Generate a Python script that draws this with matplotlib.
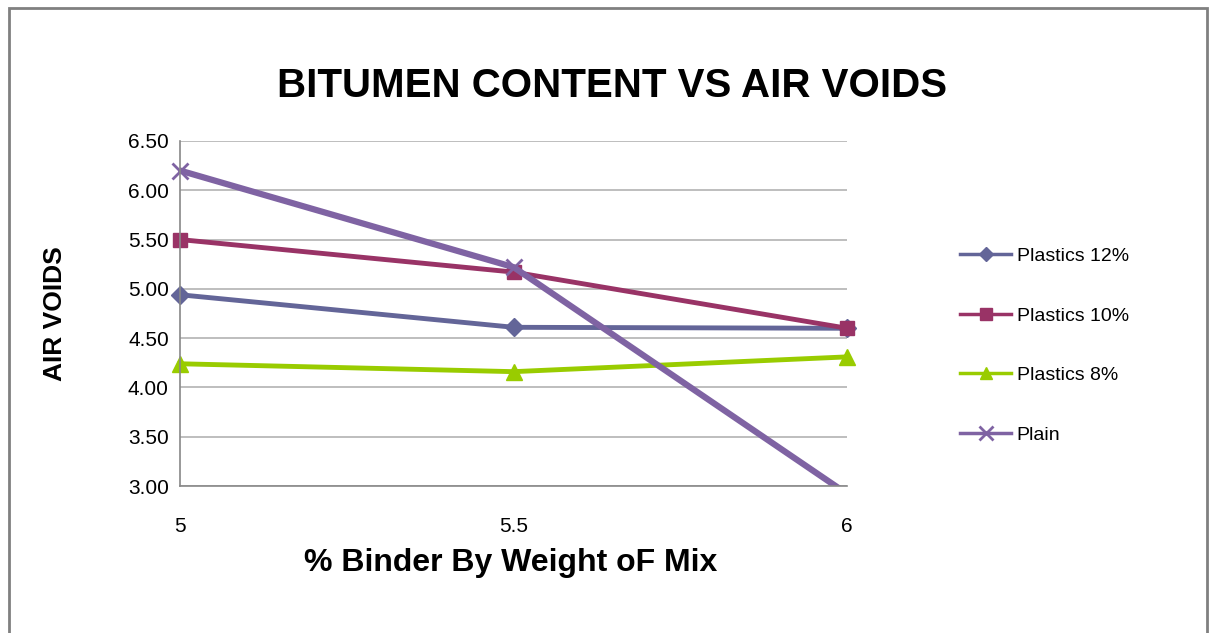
import matplotlib.pyplot as plt
from matplotlib.patches import Rectangle

# data
binder = [5, 5.5, 6]
plastics_12 = [4.94, 4.61, 4.60]
plastics_10 = [5.50, 5.17, 4.60]
plastics_8 = [4.24, 4.16, 4.31]
plain = [6.20, 5.22, 2.92]
y_ticks = [3.0, 3.5, 4.0, 4.5, 5.0, 5.5, 6.0, 6.5]

plt.rcParams['font.family'] = ['Liberation Sans Narrow', 'Liberation Sans', 'DejaVu Sans']

fig = plt.figure(figsize=(12.12, 6.33), dpi=100)
ax = fig.add_axes([0.1485, 0.2322, 0.5505, 0.5451])

# series (Plain is clipped at the axis bottom, markers are not)
l1, = ax.plot(binder, plastics_12, color='#636598', lw=3.5, marker='D', ms=9, label='Plastics 12%')
l2, = ax.plot(binder, plastics_10, color='#993366', lw=3.5, marker='s', ms=10, label='Plastics 10%')
l3, = ax.plot(binder, plastics_8, color='#99cc00', lw=3.5, marker='^', ms=11, label='Plastics 8%')
ax.plot(binder, plain, color='#7f63a3', lw=4.5, label='_nolegend_')
l4, = ax.plot(binder[:2], plain[:2], color='#7f63a3', lw=0, marker='x', ms=12, mew=2,
              label='Plain', clip_on=False)
for ln in (l1, l2, l3):
    ln.set_clip_on(False)

# axes
ax.set_xlim(5, 6)
ax.set_ylim(3.0, 6.5)
ax.set_xticks(binder)
ax.set_xticklabels(['5', '5.5', '6'], fontsize=15)
ax.set_yticks(y_ticks)
ax.set_yticklabels(['%.2f' % v for v in y_ticks], fontsize=15)
ax.tick_params(length=0, pad=8)
ax.tick_params(axis='x', pad=22)
ax.grid(axis='y', color='#b3b3b3', lw=1.2)
ax.set_axisbelow(True)
for s in ['top', 'right']:
    ax.spines[s].set_visible(False)
for s in ['left', 'bottom']:
    ax.spines[s].set_color('#888888')
    ax.spines[s].set_linewidth(1.2)

# labels
fig.text(0.505, 0.864, 'BITUMEN CONTENT VS AIR VOIDS', ha='center', va='center',
         fontsize=29, fontweight='bold')
fig.text(0.421, 0.111, '% Binder By Weight oF Mix', ha='center', va='center',
         fontsize=23, fontweight='bold')
fig.text(0.045, 0.505, 'AIR VOIDS', ha='center', va='center', rotation=90,
         fontsize=19, fontweight='bold')

# legend
leg = fig.legend(handles=[l1, l2, l3, l4], loc='upper left', bbox_to_anchor=(0.778, 0.637),
                 frameon=False, fontsize=14, handlelength=2.6, handletextpad=0.3,
                 labelspacing=2.16, markerscale=0.8)
for h in leg.legend_handles:
    h.set_linewidth(2.5)
    h.set_linestyle('-')

# outer frame
fig.patches.append(Rectangle((0.0075, -0.05), 0.988, 1.038, transform=fig.transFigure,
                             fill=False, edgecolor='#808080', lw=2))

plt.savefig('out.png', dpi=100)
plt.close()
